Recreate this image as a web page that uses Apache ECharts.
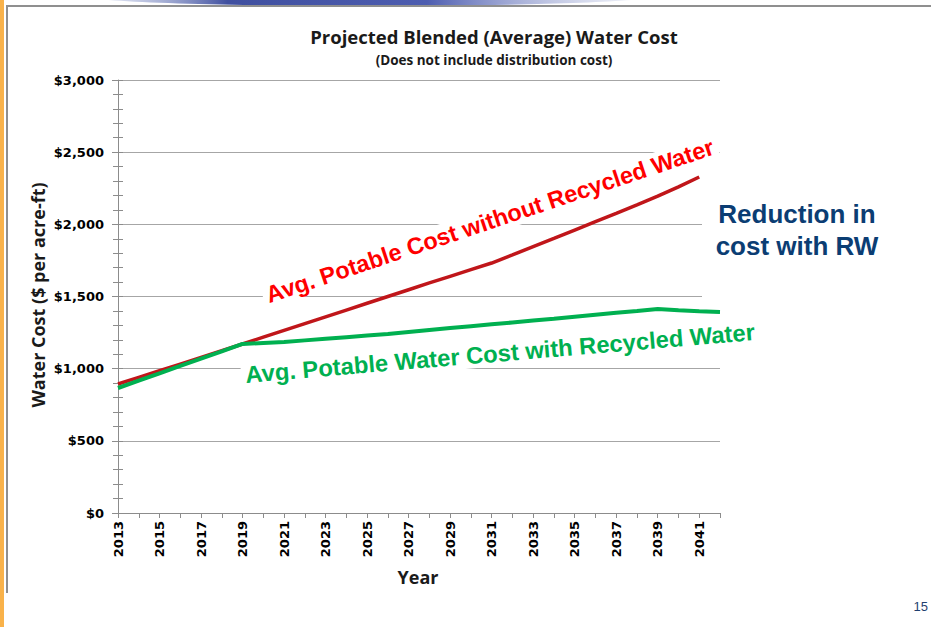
<!DOCTYPE html>
<html>
<head>
<meta charset="utf-8">
<script src="https://cdn.jsdelivr.net/npm/echarts@6/dist/echarts.min.js"></script>
<style>
html,body{margin:0;padding:0;background:#fff;}
#chart{width:931px;height:627px;}
</style>
</head>
<body>
<div id="chart"></div>
<script>
// ---- data ----
var years = ['2013','2014','2015','2016','2017','2018','2019','2020','2021','2022','2023','2024','2025','2026','2027','2028','2029','2030','2031','2032','2033','2034','2035','2036','2037','2038','2039','2040','2041','2042'];
var withoutRW = [894,940,986,1032,1078,1124,1171,1218,1265,1312,1359,1406,1453,1500,1547,1594,1640,1686,1732,1788,1845,1902,1960,2018,2076,2135,2195,2260,2328,null];
var withRW = [866,917,968,1019,1070,1120,1171,1178,1185,1196,1207,1218,1229,1240,1254,1268,1281,1294,1307,1320,1333,1346,1360,1374,1387,1400,1414,1405,1398,1393];
var yTicks = [0,500,1000,1500,2000,2500,3000];

var titleText = 'Projected Blended (Average) Water Cost';
var subtitleText = '(Does not include distribution cost)';
var yName = 'Water Cost ($ per acre-ft)';
var xName = 'Year';
var redLabel = 'Avg. Potable Cost without Recycled Water';
var greenLabel = 'Avg. Potable Water Cost with Recycled Water';
var noteLines = ['Reduction in', 'cost with RW'];
var pageNo = '15';

var chart = echarts.init(document.getElementById('chart'), null, {renderer: 'svg'});
var calibri = '"Open Sans", Lato, sans-serif';
var arial = '"Liberation Sans", Arial, sans-serif';

function money(v){ return '$' + String(v).replace(/\B(?=(\d{3})+(?!\d))/g, ','); }

var option = {
  backgroundColor: '#ffffff',
  animation: false,
  grid: {left: 118, right: 211, top: 80, bottom: 114, containLabel: false},
  xAxis: {
    type: 'category',
    data: years,
    boundaryGap: false,
    axisLine: {lineStyle: {color: '#8c8c8c', width: 1}},
    axisTick: {show: true, interval: 0, length: 5, lineStyle: {color: '#8c8c8c'}},
    axisLabel: {interval: 1, rotate: 90, margin: 8, color: '#000', fontFamily: 'DejaVu Sans', fontWeight: 'bold', fontSize: 13},
    splitLine: {show: false}
  },
  yAxis: [{
    type: 'value',
    min: yTicks[0], max: yTicks[yTicks.length-1], interval: 500,
    axisLine: {show: true, lineStyle: {color: '#8c8c8c'}},
    axisTick: {show: true, length: 6, lineStyle: {color: '#8c8c8c'}},
    minorTick: {show: true, splitNumber: 5, length: 5, lineStyle: {color: '#8c8c8c'}},
    axisLabel: {margin: 14, color: '#000', fontFamily: 'DejaVu Sans', fontWeight: 'bold', fontSize: 13, formatter: money},
    splitLine: {show: true, lineStyle: {color: '#a6a6a6', width: 1}}
  }, {
    type: 'value', position: 'left',
    min: yTicks[0], max: yTicks[yTicks.length-1], interval: 100,
    axisLine: {show: false},
    axisTick: {show: true, inside: true, length: 5, lineStyle: {color: '#8c8c8c'}},
    axisLabel: {show: false},
    splitLine: {show: false}
  }],
  series: [{
    name: redLabel, type: 'line', data: withoutRW, yAxisIndex: 0,
    symbol: 'none', smooth: false, z: 3,
    lineStyle: {color: '#c0161a', width: 3.5}
  }, {
    name: greenLabel, type: 'line', data: withRW, yAxisIndex: 0,
    symbol: 'none', smooth: false, z: 4,
    lineStyle: {color: '#00b050', width: 4}
  }],
  graphic: [
    // page decorations
    {type: 'ellipse', z: 0, shape: {cx: 370, cy: -4, rx: 285, ry: 10},
      style: {fill: {type: 'linear', x: 0, y: 0, x2: 1, y2: 0, colorStops: [
        {offset: 0, color: 'rgba(200,210,235,0.3)'}, {offset: 0.25, color: '#3f4f9f'},
        {offset: 0.6, color: '#4d5db0'}, {offset: 1, color: 'rgba(220,225,240,0.3)'}]}}},
    {type: 'rect', z: 0, shape: {x: 0, y: 0, width: 4, height: 627}, style: {fill: '#f9b24a'}},
    {type: 'rect', z: 0, shape: {x: 6, y: 6, width: 2, height: 587}, style: {fill: '#8f8f8f'}},
    {type: 'rect', z: 0, shape: {x: 6, y: 5, width: 925, height: 2}, style: {fill: '#8f8f8f'}},
    // white box behind the note
    {type: 'rect', z: 1, shape: {x: 702, y: 170, width: 190, height: 130}, style: {fill: '#ffffff'}},
    // titles
    {type: 'text', z: 5, style: {x: 494, y: 36, text: titleText, textAlign: 'center', textVerticalAlign: 'middle', fill: '#1a1a1a', font: 'bold 18.5px ' + calibri}},
    {type: 'text', z: 5, style: {x: 494, y: 60, text: subtitleText, textAlign: 'center', textVerticalAlign: 'middle', fill: '#1a1a1a', font: 'bold 13.5px ' + calibri}},
    {type: 'text', z: 5, x: 38, y: 295, rotation: Math.PI/2, style: {x: 0, y: 0, text: yName, textAlign: 'center', textVerticalAlign: 'middle', fill: '#1a1a1a', font: 'bold 18px ' + calibri}},
    {type: 'text', z: 5, style: {x: 418, y: 577, text: xName, textAlign: 'center', textVerticalAlign: 'middle', fill: '#1a1a1a', font: 'bold 18px ' + calibri}},
    // annotations
    {type: 'text', z: 2, x: 490, y: 221, rotation: 18.5*Math.PI/180,
      style: {x: 0, y: 0, text: redLabel, textAlign: 'center', textVerticalAlign: 'middle', fill: '#ff0000', font: 'bold 23.5px ' + arial, backgroundColor: '#ffffff', padding: [1, 4]}},
    {type: 'text', z: 2, x: 500, y: 353, rotation: 4.8*Math.PI/180,
      style: {x: 0, y: 0, text: greenLabel, textAlign: 'center', textVerticalAlign: 'middle', fill: '#00b050', font: 'bold 23.8px ' + arial, backgroundColor: '#ffffff', padding: [1, 4]}},
    {type: 'text', z: 5, style: {x: 797, y: 214, text: noteLines[0], textAlign: 'center', textVerticalAlign: 'middle', fill: '#0b3d73', font: 'bold 26px ' + arial}},
    {type: 'text', z: 5, style: {x: 797, y: 246, text: noteLines[1], textAlign: 'center', textVerticalAlign: 'middle', fill: '#0b3d73', font: 'bold 26px ' + arial}},
    {type: 'text', z: 5, style: {x: 928, y: 606, text: pageNo, textAlign: 'right', textVerticalAlign: 'middle', fill: '#1f3f6f', font: '13px ' + arial}}
  ]
};
chart.setOption(option);
</script>
</body>
</html>
